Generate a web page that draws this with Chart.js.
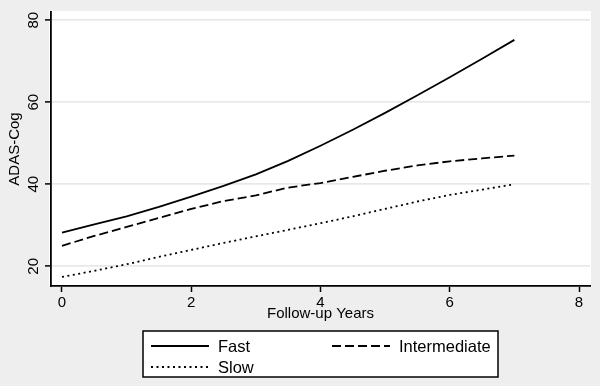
<!DOCTYPE html>
<html>
<head>
<meta charset="utf-8">
<script src="https://cdn.jsdelivr.net/npm/chart.js@4.4.1/dist/chart.umd.min.js"></script>
<style>
  body { margin: 0; background: #eeeeee; }
  canvas { display: block; }
</style>
</head>
<body>
<canvas id="adas" width="600" height="386"></canvas>
<script>
// follow-up time (years) and the fitted ADAS-Cog trajectories
const years = [0, 0.5, 1, 1.5, 2, 2.5, 3, 3.5, 4, 4.5, 5, 5.5, 6, 6.5, 7];
const fast = [28.2, 30.2, 32.2, 34.5, 37.0, 39.6, 42.4, 45.7, 49.4, 53.3, 57.4, 61.7, 66.1, 70.6, 75.2];
const intermediate = [25.0, 27.4, 29.6, 31.8, 34.0, 35.9, 37.3, 39.2, 40.3, 41.8, 43.3, 44.6, 45.6, 46.3, 47.0];
const slow = [17.4, 18.9, 20.5, 22.3, 24.0, 25.7, 27.3, 28.9, 30.5, 32.2, 34.0, 35.8, 37.4, 38.7, 40.0];

const xTicks = [0, 2, 4, 6, 8];
const yTicks = [20, 40, 60, 80];

const fontFamily = '"Liberation Sans", Arial, sans-serif';

function toPoints(arr) {
    return arr.map(function(v, i) { return {x: years[i], y: v}; });
}

// white plot region on the grey page
const plotBackground = {
    id: 'plotBackground',
    beforeDraw: function(chart) {
        const ctx = chart.ctx;
        const a = chart.chartArea;
        ctx.save();
        ctx.fillStyle = '#ffffff';
        ctx.fillRect(a.left - 2, a.top - 1, a.right - a.left + 3, a.bottom - a.top + 1);
        ctx.restore();
    }
};

// boxed legend below the x axis, two columns
const boxLegend = {
    id: 'boxLegend',
    afterDraw: function(chart) {
        const ctx = chart.ctx;
        const ds = chart.data.datasets;
        const slots = [
            {x: 151, y: 346},   // Fast
            {x: 332, y: 346},   // Intermediate
            {x: 151, y: 367}    // Slow
        ];
        ctx.save();
        ctx.fillStyle = '#ffffff';
        ctx.fillRect(143, 331, 355, 46);
        ctx.strokeStyle = '#000000';
        ctx.lineWidth = 1.5;
        ctx.strokeRect(143, 331, 355, 46);
        ctx.font = '16.5px ' + fontFamily;
        ctx.textBaseline = 'middle';
        ctx.textAlign = 'left';
        ds.forEach(function(d, i) {
            const s = slots[i];
            ctx.beginPath();
            ctx.setLineDash(d.borderDash || []);
            ctx.lineWidth = d.borderWidth;
            ctx.strokeStyle = d.borderColor;
            ctx.moveTo(s.x, s.y);
            ctx.lineTo(s.x + 58, s.y);
            ctx.stroke();
            ctx.setLineDash([]);
            ctx.fillStyle = '#000000';
            ctx.fillText(d.label, s.x + 67, s.y + 1);
        });
        ctx.restore();
    }
};

new Chart(document.getElementById('adas'), {
    type: 'line',
    data: {
        datasets: [
            {label: 'Fast', data: toPoints(fast), borderColor: '#000000', borderWidth: 1.8, borderDash: []},
            {label: 'Intermediate', data: toPoints(intermediate), borderColor: '#000000', borderWidth: 1.8, borderDash: [9, 4]},
            {label: 'Slow', data: toPoints(slow), borderColor: '#000000', borderWidth: 1.8, borderDash: [2, 3.5]}
        ]
    },
    options: {
        responsive: false,
        animation: false,
        layout: {padding: {left: 0, right: 10, top: 7, bottom: 62}},
        elements: {point: {radius: 0}, line: {tension: 0}},
        plugins: {legend: {display: false}, tooltip: {enabled: false}},
        scales: {
            x: {
                type: 'linear',
                min: -0.17,
                max: 8.17,
                afterBuildTicks: function(scale) {
                    scale.ticks = xTicks.map(function(v) { return {value: v}; });
                },
                afterFit: function(scale) { scale.height = 38; },
                grid: {drawOnChartArea: false, tickLength: 6, tickColor: '#000000', tickWidth: 1.5},
                border: {color: '#000000', width: 1.8},
                ticks: {color: '#000000', padding: 2, maxRotation: 0, font: {family: fontFamily, size: 15}},
                title: {display: true, text: 'Follow-up Years', color: '#000000',
                        padding: {top: 0, bottom: 1}, font: {family: fontFamily, size: 15}}
            },
            y: {
                min: 15.2,
                max: 82,
                afterBuildTicks: function(scale) {
                    scale.ticks = yTicks.map(function(v) { return {value: v}; });
                },
                afterFit: function(scale) { scale.width = 51; },
                grid: {color: '#e8e8e8', lineWidth: 1.8, tickLength: 6, tickColor: '#000000', tickWidth: 1.5},
                border: {color: '#000000', width: 1.8},
                ticks: {color: '#000000', minRotation: 90, maxRotation: 90, crossAlign: 'center', padding: 3,
                        font: {family: fontFamily, size: 15}},
                title: {display: true, text: 'ADAS-Cog', color: '#000000',
                        padding: {top: 6, bottom: 0}, font: {family: fontFamily, size: 15}}
            }
        }
    },
    plugins: [plotBackground, boxLegend]
});
</script>
</body>
</html>
